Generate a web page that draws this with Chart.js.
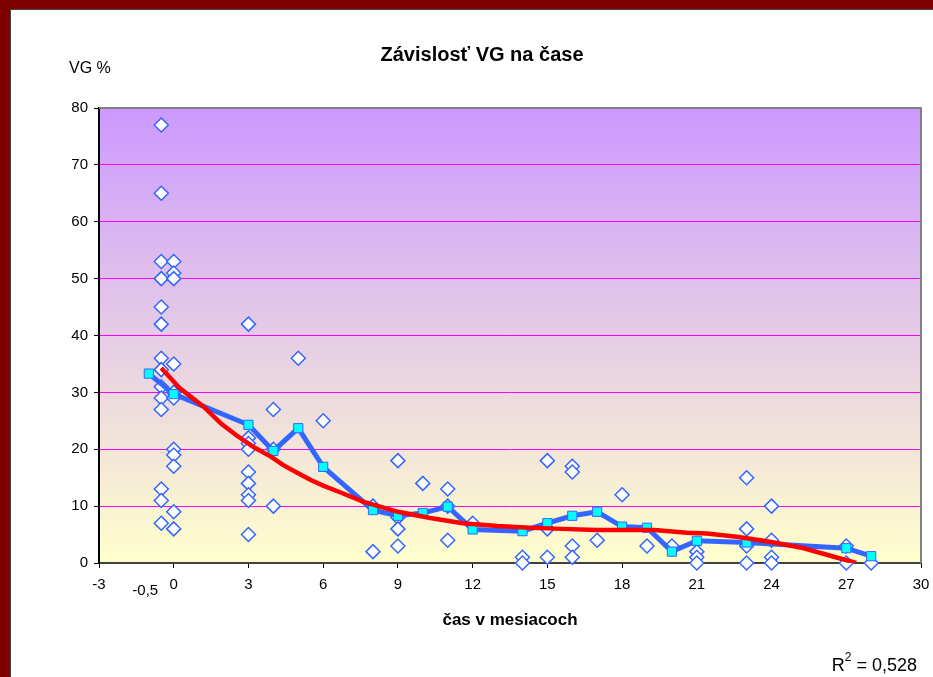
<!DOCTYPE html>
<html>
<head>
<meta charset="utf-8">
<script src="https://cdn.jsdelivr.net/npm/chart.js@4.4.1/dist/chart.umd.min.js"></script>
<style>
    html, body { margin: 0; padding: 0; background: #fff; }
    #frame { position: absolute; left: 0; top: 0; width: 933px; height: 677px; background: #800000; }
    #panel { position: absolute; left: 10px; top: 9px; right: 0; bottom: 0; background: #fff;
             border-left: 1px solid #444; border-top: 1px solid #444; }
    #chart { position: absolute; left: 0; top: 0; }
</style>
</head>
<body>
<div id="frame"><div id="panel"></div></div>
<canvas id="chart" width="933" height="677"></canvas>
<script>
// measured values (time in months, VG in %)
const obsX = [
    -0.5, -0.5, -0.5, -0.5, -0.5, -0.5, -0.5, -0.5, -0.5, -0.5, -0.5, -0.5, -0.5, -0.5,
    0, 0, 0, 0, 0, 0, 0, 0, 0, 0, 0,
    3, 3, 3, 3, 3, 3, 3, 3, 3,
    4, 4, 4,
    5,
    6,
    8, 8,
    9, 9, 9, 9,
    10,
    11, 11, 11,
    12,
    14, 14,
    15, 15, 15,
    16, 16, 16, 16,
    17,
    18,
    19,
    20,
    21, 21, 21,
    23, 23, 23, 23,
    24, 24, 24, 24,
    27, 27,
    28
];
const obsY = [
    77, 65, 53, 50, 45, 42, 36, 34, 31, 29, 27, 13, 11, 7,
    53, 51, 50, 35, 30, 29, 20, 19, 17, 9, 6,
    42, 22, 21, 20, 16, 14, 12, 11, 5,
    27, 20, 10,
    36,
    25,
    10, 2,
    18, 8, 6, 3,
    14,
    13, 10, 4,
    7,
    1, 0,
    18, 6, 1,
    17, 16, 3, 1,
    4,
    12,
    3,
    3,
    2, 1, 0,
    15, 6, 3, 0,
    10, 4, 1, 0,
    3, 0,
    0
];

// mean per month (blue line)
const meanX = [-1, 0, 3, 4, 5, 6, 8, 9, 10, 11, 12, 14, 15, 16, 17, 18, 19, 20, 21, 23, 27, 28];
const meanY = [33.3, 29.7, 24.3, 19.7, 23.7, 16.9, 9.3, 8.3, 8.8, 9.9, 5.9, 5.6, 7.0, 8.3, 9.0, 6.4, 6.2, 2.0, 3.9, 3.6, 2.6, 1.2];

// trend line (red)
const trendX = [-0.5, 0.25, 1.2, 1.9, 2.5, 3.2, 3.9, 4.4, 4.9, 5.5, 6.0, 6.7, 7.6, 9.0, 10.3, 11.6, 13.0, 14.3, 15.6, 17.0, 18.3, 19.3, 20.6, 21.4, 22.6, 24.0, 25.3, 26.5, 27.4];
const trendY = [34.3, 30.7, 27.5, 24.5, 22.5, 20.4, 18.7, 17.2, 16.0, 14.6, 13.6, 12.4, 10.8, 9.0, 7.9, 7.0, 6.5, 6.2, 6.0, 5.8, 5.8, 5.8, 5.3, 5.2, 4.6, 3.7, 2.6, 1.1, 0];

const chartTitle = 'Závislosť VG na čase';
const yTitle = 'VG %';
const xTitle = 'čas v mesiacoch';
const extraTick = -0.5;
const rSquared = '0,528';

const FONT = "'Liberation Sans', Arial, sans-serif";

function pairs(xs, ys) {
    return xs.map((x, i) => ({ x: x, y: ys[i] }));
}

const plotDecor = {
    id: 'plotDecor',
    beforeDraw(chart) {
        const { ctx, chartArea: a } = chart;
        const g = ctx.createLinearGradient(0, a.top, 0, a.bottom);
        g.addColorStop(0, '#cc99ff');
        g.addColorStop(1, '#ffffcc');
        ctx.save();
        ctx.fillStyle = g;
        ctx.fillRect(a.left, a.top, a.right - a.left, a.bottom - a.top);
        ctx.restore();
    },
    beforeDatasetsDraw(chart) {
        const { ctx, chartArea: a } = chart;
        ctx.save();
        ctx.strokeStyle = '#808080';
        ctx.lineWidth = 2;
        ctx.beginPath();
        ctx.moveTo(a.left, a.top);
        ctx.lineTo(a.right, a.top);
        ctx.lineTo(a.right, a.bottom);
        ctx.stroke();
        ctx.restore();
    },
    afterDraw(chart) {
        const { ctx, chartArea: a } = chart;
        const xs = chart.scales.x;
        ctx.save();
        ctx.fillStyle = '#000';
        ctx.textBaseline = 'middle';

        ctx.font = 'bold 20px ' + FONT;
        ctx.textAlign = 'center';
        ctx.fillText(chartTitle, 482, 55);

        ctx.font = '16px ' + FONT;
        ctx.textAlign = 'left';
        ctx.fillText(yTitle, 69, 69);

        ctx.font = 'bold 17px ' + FONT;
        ctx.textAlign = 'center';
        ctx.fillText(xTitle, (a.left + a.right) / 2, 620);

        ctx.font = '15px ' + FONT;
        ctx.fillText(extraTick.toString().replace('.', ','), xs.getPixelForValue(extraTick) - 16, 591);

        // R squared, right aligned
        const main = '18px ' + FONT;
        const sup = '12px ' + FONT;
        const tail = ' = ' + rSquared;
        ctx.font = main;
        const wR = ctx.measureText('R').width;
        const wTail = ctx.measureText(tail).width;
        ctx.font = sup;
        const w2 = ctx.measureText('2').width;
        let x = 917 - wR - w2 - wTail;
        ctx.textAlign = 'left';
        ctx.font = main;
        ctx.fillText('R', x, 666);
        x += wR;
        ctx.font = sup;
        ctx.fillText('2', x, 658);
        x += w2;
        ctx.font = main;
        ctx.fillText(tail, x, 666);
        ctx.restore();
    }
};

new Chart(document.getElementById('chart'), {
    type: 'scatter',
    data: {
        datasets: [
            {
                label: 'trend',
                data: pairs(trendX, trendY),
                showLine: true,
                borderColor: '#ff0000',
                borderWidth: 4.5,
                pointRadius: 0,
                tension: 0,
                order: 1
            },
            {
                label: 'priemer',
                data: pairs(meanX, meanY),
                showLine: true,
                borderColor: '#3366ff',
                borderWidth: 5,
                pointStyle: 'rect',
                pointRadius: 6.5,
                pointBackgroundColor: '#00ffff',
                pointBorderColor: '#3366ff',
                pointBorderWidth: 1,
                tension: 0,
                order: 2
            },
            {
                label: 'VG',
                data: pairs(obsX, obsY),
                pointStyle: 'rectRot',
                pointRadius: 7,
                pointBackgroundColor: '#ffffff',
                pointBorderColor: '#3366ff',
                pointBorderWidth: 1.5,
                clip: false,
                order: 3
            }
        ]
    },
    options: {
        responsive: false,
        animation: false,
        devicePixelRatio: 1,
        layout: { padding: { left: 0, top: 108, right: 12, bottom: 0 } },
        plugins: {
            legend: { display: false },
            tooltip: { enabled: false }
        },
        scales: {
            x: {
                type: 'linear',
                min: -3,
                max: 30,
                afterFit: s => { s.height = 114; s.paddingLeft = 0; s.paddingRight = 0; },
                ticks: { stepSize: 3, color: '#000', font: { family: FONT, size: 15 }, padding: 8 },
                grid: { drawOnChartArea: false, tickLength: 5, tickColor: '#000', tickWidth: 1 },
                border: { color: '#404040', width: 2 }
            },
            y: {
                min: 0,
                max: 80,
                afterFit: s => { s.width = 99; },
                ticks: { stepSize: 10, color: '#000', font: { family: FONT, size: 15 }, padding: 6 },
                grid: {
                    color: c => (c.tick && (c.tick.value === 0 || c.tick.value === 80)) ? 'rgba(0,0,0,0)' : '#ff00ff',
                    lineWidth: 1,
                    tickLength: 5,
                    tickColor: '#000'
                },
                border: { color: '#000', width: 2 }
            }
        }
    },
    plugins: [plotDecor]
});
</script>
</body>
</html>
